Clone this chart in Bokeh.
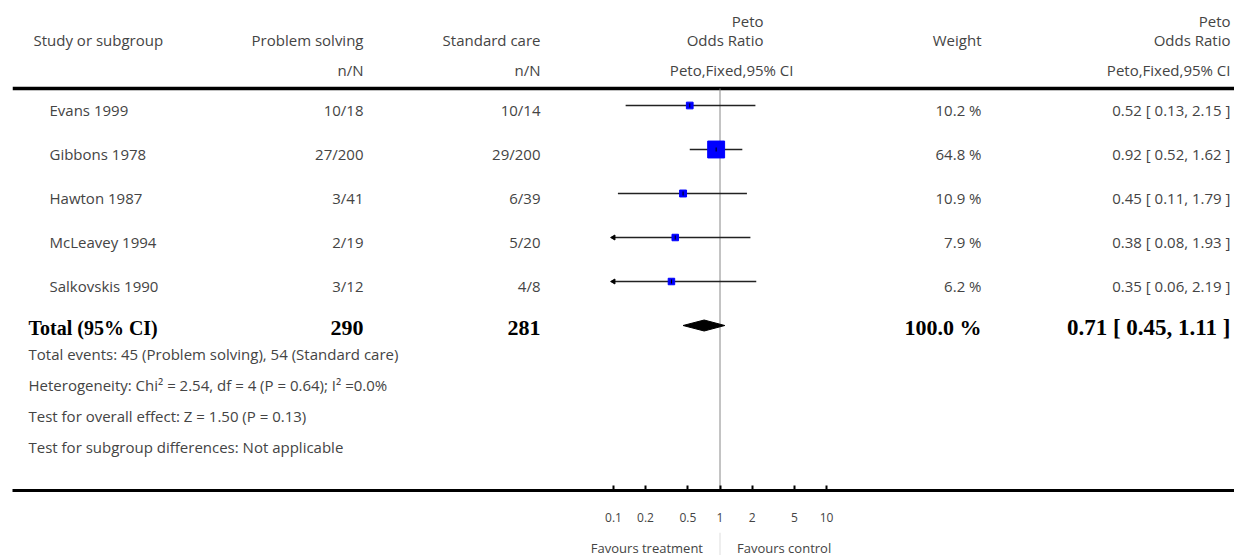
import math
from bokeh.plotting import figure
from bokeh.models import Range1d, LinearScale, LogAxis, FixedTicker
from bokeh.layouts import column
from bokeh.core.properties import value
from bokeh.embed import file_html
from bokeh.resources import INLINE

# ---------------- data ----------------
studies = ["Evans 1999", "Gibbons 1978", "Hawton 1987", "McLeavey 1994", "Salkovskis 1990"]
ps_events = [10, 27, 3, 2, 3]
ps_total = [18, 200, 41, 19, 12]
sc_events = [10, 29, 6, 5, 4]
sc_total = [14, 200, 39, 20, 8]
weights = [10.2, 64.8, 10.9, 7.9, 6.2]
or_est = [0.52, 0.92, 0.45, 0.38, 0.35]
ci_low = [0.13, 0.52, 0.11, 0.08, 0.06]
ci_high = [2.15, 1.62, 1.79, 1.93, 2.19]

total_label = "Total (95% CI)"
total_ps = 290
total_sc = 281
total_weight = 100.0
total_or = 0.71
total_low = 0.45
total_high = 1.11

footer_lines = [
    "Total events: 45 (Problem solving), 54 (Standard care)",
    "Heterogeneity: Chi\u00b2 = 2.54, df = 4 (P = 0.64); I\u00b2 =0.0%",
    "Test for overall effect: Z = 1.50 (P = 0.13)",
    "Test for subgroup differences: Not applicable",
]

tick_values = [0.1, 0.2, 0.5, 1, 2, 5, 10]
tick_labels = ["0.1", "0.2", "0.5", "1", "2", "5", "10"]
favours_left = "Favours treatment"
favours_right = "Favours control"

# ---------------- layout constants ----------------
FONT = value("Open Sans")
BOLD_FONT = value("Liberation Serif")
TXT = "#444444"
W = 1234
H1 = 532
H2 = 23
AXIS_Y = 490
ONE_X = 719.5
DECADE = 106.5
PLOT_MIN, PLOT_MAX = 0.1, 10


def ref_to_or(xr):
    return 10 ** ((xr - ONE_X) / DECADE)


x_rng = Range1d(ref_to_or(12), ref_to_or(1234))

p = figure(width=W, height=H1, x_axis_type="log", x_range=x_rng,
           y_range=Range1d(AXIS_Y, 0),
           output_backend="svg", toolbar_location=None,
           x_axis_location=None, y_axis_location=None,
           min_border_left=12, min_border_right=0, min_border_top=0,
           min_border_bottom=H1 - AXIS_Y)
p.extra_x_ranges = {"px": Range1d(12, 1234)}
p.extra_x_scales = {"px": LinearScale()}
p.outline_line_color = None
p.grid.visible = False
p.background_fill_color = "white"
p.border_fill_color = "white"


def txt(x, y, t, align="left", size=15, font=FONT, color=TXT, style="normal"):
    fix = 0.36 * size
    p.text(x=x, y=[v - fix for v in y], text=t, x_range_name="px", text_font=font,
           text_font_size=f"{size}px", text_align=align, text_baseline="alphabetic",
           text_color=color, text_font_style=style)


# header
HB1, HB2, HB3 = 26, 45, 75
txt([33], [HB2], ["Study or subgroup"])
txt([363, 540, 981], [HB2] * 3, ["Problem solving", "Standard care", "Weight"], align="right")
txt([363, 540], [HB3, HB3], ["n/N", "n/N"], align="right")
txt([763, 763, 1230, 1230], [HB1, HB2, HB1, HB2], ["Peto", "Odds Ratio", "Peto", "Odds Ratio"], align="right")
txt([793, 1230], [HB3, HB3], ["Peto,Fixed,95% CI", "Peto,Fixed,95% CI"], align="right")
p.segment(x0=[12], x1=[1234], y0=[88], y1=[88], x_range_name="px", line_color="black", line_width=3.5)

# reference line at OR = 1
p.segment(x0=[1], x1=[1], y0=[88], y1=[AXIS_Y], line_color="#888888", line_width=1)

# study rows
ROW0, ROW_H = 105, 44
row_y = [ROW0 + ROW_H * i for i in range(len(studies))]
base_y = [y + 10 for y in row_y]
txt([49] * len(studies), base_y, studies)
txt([363] * len(studies), base_y, [f"{e}/{n}" for e, n in zip(ps_events, ps_total)], align="right")
txt([540] * len(studies), base_y, [f"{e}/{n}" for e, n in zip(sc_events, sc_total)], align="right")
txt([981] * len(studies), base_y, [f"{w:.1f} %" for w in weights], align="right")
txt([1230] * len(studies), base_y,
    [f"{o:.2f} [ {l:.2f}, {h:.2f} ]" for o, l, h in zip(or_est, ci_low, ci_high)], align="right")

x0 = [max(l, PLOT_MIN) for l in ci_low]
x1 = [min(h, PLOT_MAX) for h in ci_high]
p.segment(x0=x0, x1=x1, y0=row_y, y1=row_y, line_color="#222222", line_width=1.3)
sizes = [max(6.5, 2.1 * math.sqrt(w)) for w in weights]
p.scatter(x=or_est, y=row_y, marker="square", size=sizes, fill_color="#0000ff", line_color="#0000ff")
p.scatter(x=or_est, y=row_y, marker="dash", angle=math.pi / 2, size=4, line_color="#000000", line_width=1)
# clipped CI arrows
arrow_x = [PLOT_MIN for l in ci_low if l < PLOT_MIN]
arrow_y = [y for l, y in zip(ci_low, row_y) if l < PLOT_MIN]
p.scatter(x=arrow_x, y=arrow_y, marker="triangle", angle=math.pi / 2, size=5,
          fill_color="black", line_color="black")

# total row
TOT_Y = ROW0 + ROW_H * len(studies)
tb = TOT_Y + 10
txt([28], [tb], [total_label], size=20, font=BOLD_FONT, color="black", style="bold")
txt([363, 540, 981], [tb] * 3,
    [str(total_ps), str(total_sc), f"{total_weight:.1f} %"],
    align="right", size=22, font=BOLD_FONT, color="black", style="bold")
txt([1230], [tb], [f"{total_or:.2f} [ {total_low:.2f}, {total_high:.2f} ]"],
    align="right", size=23, font=BOLD_FONT, color="black", style="bold")
HALF_H = 5.5
p.patch(x=[total_low, total_or, total_high, total_or],
        y=[TOT_Y, TOT_Y - HALF_H, TOT_Y, TOT_Y + HALF_H],
        fill_color="black", line_color="black")

# footer text
FOOT0, FOOT_H = tb + 24, 31
txt([28] * len(footer_lines), [FOOT0 + FOOT_H * i for i in range(len(footer_lines))], footer_lines)

# bottom axis
ax = LogAxis(ticker=FixedTicker(ticks=tick_values),
             major_label_overrides={v: l for v, l in zip(tick_values, tick_labels)})
ax.axis_line_width = 3
ax.axis_line_color = "black"
ax.major_tick_in = 5
ax.major_tick_out = 0
ax.major_tick_line_width = 2
ax.minor_tick_line_color = None
ax.major_label_standoff = 22
ax.major_label_text_font = "Open Sans"
ax.major_label_text_font_size = "12px"
ax.major_label_text_color = TXT
p.add_layout(ax, "below")

# favours labels
p2 = figure(width=W, height=H2, x_axis_type="log", x_range=x_rng, y_range=Range1d(0, H2),
            output_backend="svg", toolbar_location=None,
            x_axis_location=None, y_axis_location=None,
            min_border_left=12, min_border_right=0, min_border_top=0, min_border_bottom=0)
p2.outline_line_color = None
p2.grid.visible = False
p2.segment(x0=[1], x1=[1], y0=[0], y1=[H2], line_color="#dddddd", line_width=1)
p2.text(x=[1], y=[8], text=[favours_left], x_offset=-17, text_align="right",
        text_baseline="alphabetic", text_font=FONT, text_font_size="13px", text_color=TXT)
p2.text(x=[1], y=[8], text=[favours_right], x_offset=17, text_align="left",
        text_baseline="alphabetic", text_font=FONT, text_font_size="13px", text_color=TXT)

layout = column(p, p2, spacing=0)
open("out.html", "w").write(file_html(layout, INLINE))
